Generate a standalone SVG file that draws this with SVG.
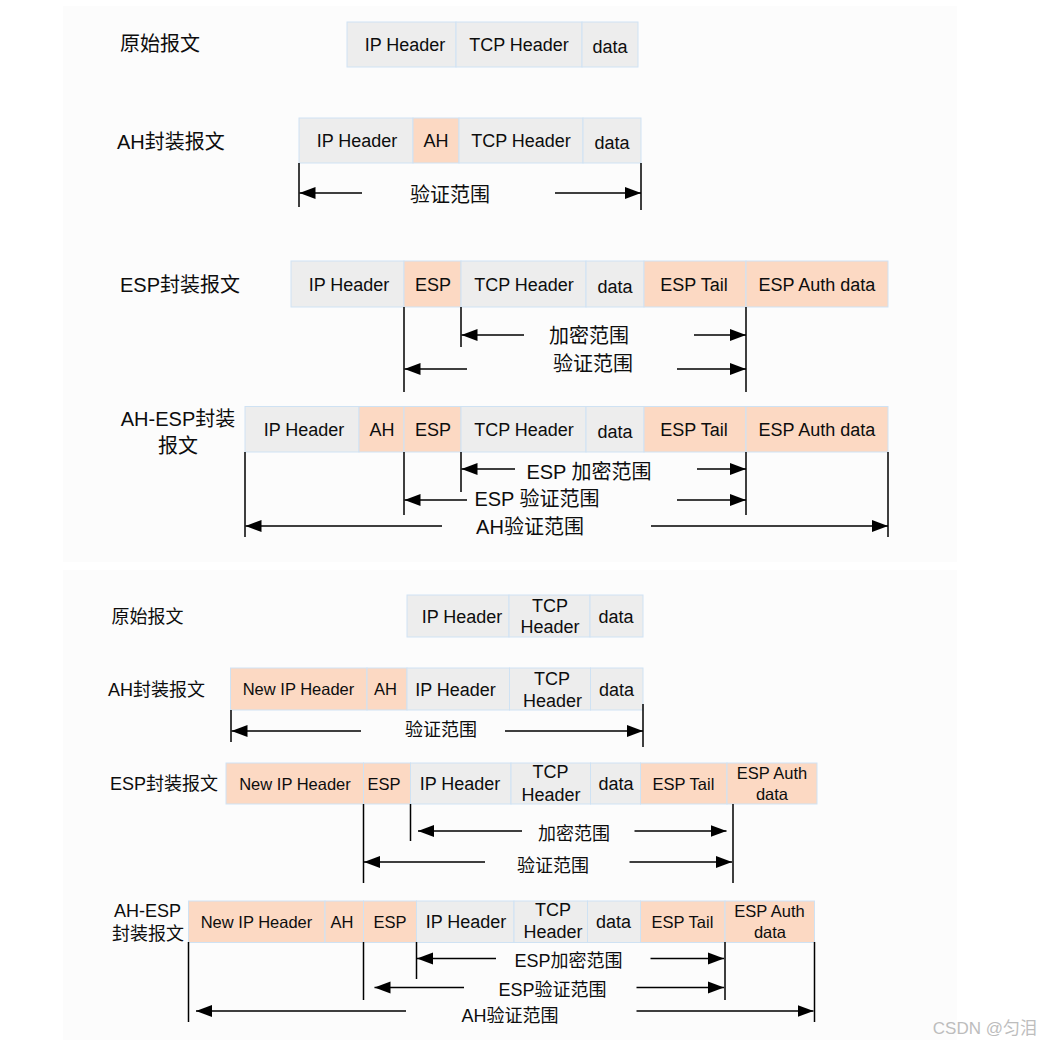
<svg xmlns="http://www.w3.org/2000/svg" width="1044" height="1045" viewBox="0 0 1044 1045">
<defs>
<style>
.g{fill:#EDEDED;stroke:#CFE2F3;stroke-width:1}
.o{fill:#FCD9C3;stroke:#CFE2F3;stroke-width:1}
text{font-family:"Liberation Sans","Noto Sans CJK SC",sans-serif;fill:#0d0d0d}
.t18{font-size:18px;text-anchor:middle}
.t16{font-size:16.5px;text-anchor:middle}
.l20{font-size:20px}
.l18{font-size:18px}
.m{text-anchor:middle}
.v{stroke:#000;stroke-width:1.5}
.a{stroke:#000;stroke-width:1.5;marker-end:url(#ah)}
.wm{font-size:17px;fill:#BDBDBD;text-anchor:end}
</style>
<marker id="ah" markerUnits="userSpaceOnUse" markerWidth="17" markerHeight="13" refX="16" refY="6.5" orient="auto"><path d="M0,0.5 L16,6.5 L0,12.5 z" fill="#000"/></marker>
</defs>
<rect width="1044" height="1045" fill="#fff"/>
<rect x="63" y="6" width="894" height="556" fill="#FCFCFC"/>
<rect x="63" y="570" width="894" height="470" fill="#FCFCFC"/>

<!-- TOP: original -->
<g id="top-orig">
<text class="l20" x="120" y="50.5">原始报文</text>
<g id="top-orig-ip"><rect class="g" x="347" y="22" width="109" height="45"/><text class="t18" x="405" y="51">IP Header</text></g>
<g id="top-orig-tcp"><rect class="g" x="456" y="22" width="126" height="45"/><text class="t18" x="519" y="51">TCP Header</text></g>
<g id="top-orig-data"><rect class="g" x="582" y="22" width="56" height="45"/><text class="t18" x="610" y="53">data</text></g>
</g>

<!-- TOP: AH -->
<g id="top-ah">
<text class="l20" x="117" y="149">AH封装报文</text>
<g id="top-ah-ip"><rect class="g" x="299" y="118" width="114" height="45"/><text class="t18" x="357" y="147">IP Header</text></g>
<g id="top-ah-ah"><rect class="o" x="413" y="118" width="46" height="45"/><text class="t18" x="436" y="147">AH</text></g>
<g id="top-ah-tcp"><rect class="g" x="459" y="118" width="124" height="45"/><text class="t18" x="521" y="147">TCP Header</text></g>
<g id="top-ah-data"><rect class="g" x="583" y="118" width="58" height="45"/><text class="t18" x="612" y="149">data</text></g>
</g>

<!-- TOP: ESP -->
<g id="top-esp">
<text class="l20" x="120" y="292">ESP封装报文</text>
<g id="top-esp-ip"><rect class="g" x="291" y="261" width="113" height="46"/><text class="t18" x="349" y="290.5">IP Header</text></g>
<g id="top-esp-esp"><rect class="o" x="404" y="261" width="57" height="46"/><text class="t18" x="433" y="290.5">ESP</text></g>
<g id="top-esp-tcp"><rect class="g" x="461" y="261" width="125" height="46"/><text class="t18" x="524" y="290.5">TCP Header</text></g>
<g id="top-esp-data"><rect class="g" x="586" y="261" width="58" height="46"/><text class="t18" x="615" y="292.5">data</text></g>
<g id="top-esp-tail"><rect class="o" x="644" y="261" width="102" height="46"/><text class="t18" x="694" y="290.5">ESP Tail</text></g>
<g id="top-esp-auth"><rect class="o" x="746" y="261" width="142" height="46"/><text class="t18" x="817" y="290.5">ESP Auth data</text></g>
</g>

<!-- TOP: AH-ESP -->
<g id="top-ahesp">
<text class="l20 m" x="178" y="425.5">AH-ESP封装</text>
<text class="l20 m" x="178" y="452.5">报文</text>
<g id="top-ahesp-ip"><rect class="g" x="245" y="406.5" width="114" height="45.5"/><text class="t18" x="304" y="435.5">IP Header</text></g>
<g id="top-ahesp-ah"><rect class="o" x="359" y="406.5" width="45" height="45.5"/><text class="t18" x="382" y="435.5">AH</text></g>
<g id="top-ahesp-esp"><rect class="o" x="404" y="406.5" width="57" height="45.5"/><text class="t18" x="433" y="435.5">ESP</text></g>
<g id="top-ahesp-tcp"><rect class="g" x="461" y="406.5" width="125" height="45.5"/><text class="t18" x="524" y="435.5">TCP Header</text></g>
<g id="top-ahesp-data"><rect class="g" x="586" y="406.5" width="58" height="45.5"/><text class="t18" x="615" y="437.5">data</text></g>
<g id="top-ahesp-tail"><rect class="o" x="644" y="406.5" width="102" height="45.5"/><text class="t18" x="694" y="435.5">ESP Tail</text></g>
<g id="top-ahesp-auth"><rect class="o" x="746" y="406.5" width="142" height="45.5"/><text class="t18" x="817" y="435.5">ESP Auth data</text></g>
</g>

<!-- BOTTOM: original -->
<g id="bot-orig">
<text class="l18" x="111.5" y="623">原始报文</text>
<g id="bot-orig-ip"><rect class="g" x="407" y="595" width="102" height="42"/><text class="t18" x="462" y="622.5">IP Header</text></g>
<g id="bot-orig-tcp"><rect class="g" x="509" y="595" width="81" height="42"/><text class="t18" x="550" y="611.5">TCP</text><text class="t18" x="550" y="633">Header</text></g>
<g id="bot-orig-data"><rect class="g" x="590" y="595" width="53" height="42"/><text class="t18" x="616" y="622.5">data</text></g>
</g>

<!-- BOTTOM: AH -->
<g id="bot-ah">
<text class="l18" x="108" y="696">AH封装报文</text>
<g id="bot-ah-newip"><rect class="o" x="230.5" y="668" width="136.5" height="42"/><text class="t16" x="298.5" y="695">New IP Header</text></g>
<g id="bot-ah-ah"><rect class="o" x="367" y="668" width="40" height="42"/><text class="t16" x="385.5" y="695">AH</text></g>
<g id="bot-ah-ip"><rect class="g" x="407" y="668" width="102.5" height="42"/><text class="t18" x="455.5" y="695.5">IP Header</text></g>
<g id="bot-ah-tcp"><rect class="g" x="509.5" y="668" width="81" height="42"/><text class="t18" x="552" y="684.5">TCP</text><text class="t18" x="552.5" y="706.5">Header</text></g>
<g id="bot-ah-data"><rect class="g" x="590.5" y="668" width="52.5" height="42"/><text class="t18" x="616.5" y="695.5">data</text></g>
</g>

<!-- BOTTOM: ESP -->
<g id="bot-esp">
<text class="l18" x="110" y="790">ESP封装报文</text>
<g id="bot-esp-newip"><rect class="o" x="226" y="763" width="137.5" height="41"/><text class="t16" x="295" y="789.5">New IP Header</text></g>
<g id="bot-esp-esp"><rect class="o" x="363.5" y="763" width="47" height="41"/><text class="t16" x="384" y="789.5">ESP</text></g>
<g id="bot-esp-ip"><rect class="g" x="410.5" y="763" width="100.5" height="41"/><text class="t18" x="460" y="790">IP Header</text></g>
<g id="bot-esp-tcp"><rect class="g" x="511" y="763" width="79.5" height="41"/><text class="t18" x="550.5" y="778">TCP</text><text class="t18" x="551" y="800.5">Header</text></g>
<g id="bot-esp-data"><rect class="g" x="590.5" y="763" width="50" height="41"/><text class="t18" x="616" y="790">data</text></g>
<g id="bot-esp-tail"><rect class="o" x="640.5" y="763" width="86.5" height="41"/><text class="t16" x="683.5" y="789.5">ESP Tail</text></g>
<g id="bot-esp-auth"><rect class="o" x="727" y="763" width="90" height="41"/><text class="t16" x="772" y="779">ESP Auth</text><text class="t16" x="772" y="799.5">data</text></g>
</g>

<!-- BOTTOM: AH-ESP -->
<g id="bot-ahesp">
<text class="l18 m" x="147.5" y="916.5">AH-ESP</text>
<text class="l18 m" x="148" y="940">封装报文</text>
<g id="bot-ahesp-newip"><rect class="o" x="188.5" y="901" width="136.5" height="41.5"/><text class="t16" x="256.5" y="927.5">New IP Header</text></g>
<g id="bot-ahesp-ah"><rect class="o" x="325" y="901" width="38.5" height="41.5"/><text class="t16" x="342" y="927.5">AH</text></g>
<g id="bot-ahesp-esp"><rect class="o" x="363.5" y="901" width="53" height="41.5"/><text class="t16" x="390" y="927.5">ESP</text></g>
<g id="bot-ahesp-ip"><rect class="g" x="416.5" y="901" width="97.5" height="41.5"/><text class="t18" x="466" y="928">IP Header</text></g>
<g id="bot-ahesp-tcp"><rect class="g" x="514" y="901" width="73.5" height="41.5"/><text class="t18" x="553" y="916">TCP</text><text class="t18" x="553" y="938">Header</text></g>
<g id="bot-ahesp-data"><rect class="g" x="587.5" y="901" width="53" height="41.5"/><text class="t18" x="613.5" y="928">data</text></g>
<g id="bot-ahesp-tail"><rect class="o" x="640.5" y="901" width="84.5" height="41.5"/><text class="t16" x="682.5" y="927.5">ESP Tail</text></g>
<g id="bot-ahesp-auth"><rect class="o" x="725" y="901" width="89.5" height="41.5"/><text class="t16" x="769.5" y="916.5">ESP Auth</text><text class="t16" x="770" y="937.5">data</text></g>
</g>

<!-- connectors -->
<g id="connectors">
<!-- top AH -->
<line class="v" x1="299" y1="163" x2="299" y2="207"/>
<line class="v" x1="641" y1="163" x2="641" y2="210"/>
<line class="a" x1="362" y1="193" x2="299.5" y2="193"/>
<line class="a" x1="555" y1="193" x2="641" y2="193"/>
<!-- top ESP -->
<line class="v" x1="404" y1="307" x2="404" y2="392"/>
<line class="v" x1="461" y1="307" x2="461" y2="347"/>
<line class="v" x1="746" y1="307" x2="746" y2="392"/>
<line class="a" x1="524" y1="335" x2="461.5" y2="335"/>
<line class="a" x1="694" y1="335" x2="746" y2="335"/>
<line class="a" x1="467" y1="369" x2="404.5" y2="369"/>
<line class="a" x1="677" y1="369" x2="746" y2="369"/>
<!-- top AH-ESP -->
<line class="v" x1="245" y1="452" x2="245" y2="537"/>
<line class="v" x1="404" y1="452" x2="404" y2="515"/>
<line class="v" x1="461" y1="452" x2="461" y2="492"/>
<line class="v" x1="746" y1="452" x2="746" y2="515"/>
<line class="v" x1="888" y1="452" x2="888" y2="537"/>
<line class="a" x1="515" y1="469" x2="461.5" y2="469"/>
<line class="a" x1="697" y1="469" x2="746" y2="469"/>
<line class="a" x1="467" y1="500" x2="404.5" y2="500"/>
<line class="a" x1="677" y1="500" x2="746" y2="500"/>
<line class="a" x1="442" y1="526" x2="245.5" y2="526"/>
<line class="a" x1="651" y1="526" x2="888" y2="526"/>
<!-- bottom AH -->
<line class="v" x1="231" y1="710" x2="231" y2="742"/>
<line class="v" x1="643" y1="704" x2="643" y2="747"/>
<line class="a" x1="361" y1="731" x2="231.5" y2="731"/>
<line class="a" x1="505" y1="731" x2="643" y2="731"/>
<!-- bottom ESP -->
<line class="v" x1="363.5" y1="804" x2="363.5" y2="883"/>
<line class="v" x1="410.5" y1="804" x2="410.5" y2="841"/>
<line class="v" x1="733" y1="804" x2="733" y2="883"/>
<line class="a" x1="522" y1="831" x2="418" y2="831"/>
<line class="a" x1="634.5" y1="831" x2="726.5" y2="831"/>
<line class="a" x1="485" y1="862" x2="364" y2="862"/>
<line class="a" x1="629.5" y1="862" x2="732" y2="862"/>
<!-- bottom AH-ESP -->
<line class="v" x1="188.5" y1="942" x2="188.5" y2="1022"/>
<line class="v" x1="363.5" y1="942" x2="363.5" y2="1000"/>
<line class="v" x1="416.5" y1="942" x2="416.5" y2="979"/>
<line class="v" x1="725" y1="942" x2="725" y2="1000"/>
<line class="v" x1="814.5" y1="942" x2="814.5" y2="1022"/>
<line class="a" x1="496" y1="958.5" x2="417" y2="958.5"/>
<line class="a" x1="650.5" y1="958.5" x2="724" y2="958.5"/>
<line class="a" x1="464" y1="987.5" x2="374.5" y2="987.5"/>
<line class="a" x1="636.5" y1="987.5" x2="724" y2="987.5"/>
<line class="a" x1="406" y1="1011" x2="196" y2="1011"/>
<line class="a" x1="636.5" y1="1011" x2="813.5" y2="1011"/>
</g>

<!-- connector labels -->
<g id="connector-labels">
<text class="l20 m" x="450" y="202">验证范围</text>
<text class="l20 m" x="589" y="342.5">加密范围</text>
<text class="l20 m" x="593" y="371">验证范围</text>
<text class="l20 m" x="589" y="478.5">ESP 加密范围</text>
<text class="l20 m" x="537" y="505.5">ESP 验证范围</text>
<text class="l20 m" x="530" y="533.5">AH验证范围</text>
<text class="l18 m" x="441" y="736">验证范围</text>
<text class="l18 m" x="574" y="840">加密范围</text>
<text class="l18 m" x="553" y="872">验证范围</text>
<text class="l18 m" x="568.5" y="967">ESP加密范围</text>
<text class="l18 m" x="552.5" y="995.5">ESP验证范围</text>
<text class="l18 m" x="510" y="1022">AH验证范围</text>
</g>

<text class="wm" x="1037" y="1033.5">CSDN @匀泪</text>
</svg>
